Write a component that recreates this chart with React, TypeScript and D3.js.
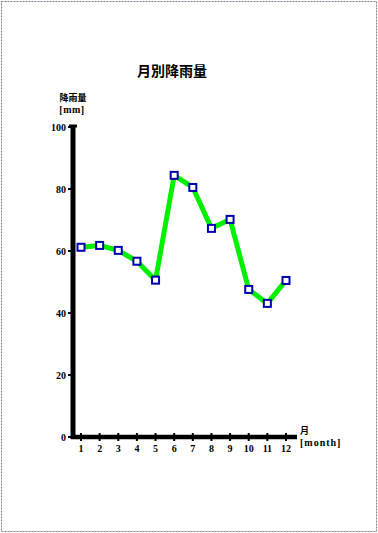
import React from "react";
import * as d3 from "d3";

const months = [1, 2, 3, 4, 5, 6, 7, 8, 9, 10, 11, 12];
const rainfall = [61.2, 61.8, 60.2, 56.7, 50.6, 84.4, 80.5, 67.3, 70.2, 47.6, 43.1, 50.5];
const yTicks = [0, 20, 40, 60, 80, 100];
const title = "月別降雨量";
const yTitle = ["降雨量", "[mm]"];
const xTitle = ["月", "[month]"];

const W = 378;
const H = 533;

export default function App() {
  const x = d3.scaleLinear().domain([1, 12]).range([81, 286]);
  const y = d3.scaleLinear().domain([0, 100]).range([437, 127]);
  const data = months.map((m, i) => ({ m, v: rainfall[i] }));
  const line = d3
    .line<{ m: number; v: number }>()
    .x((d) => x(d.m))
    .y((d) => y(d.v));
  const tickFont = "'Liberation Serif', 'DejaVu Serif', serif";
  const cjk = "'Noto Sans CJK JP', 'Noto Sans CJK SC', sans-serif";
  const axisX = 73;
  const axisY = y(0);
  return (
    <svg
      width={W}
      height={H}
      style={{ position: "fixed", left: 0, top: 0, background: "#fff" }}
    >
      <rect x={1.5} y={1.5} width={375} height={530} fill="#fff" stroke="#7c7c8c" strokeWidth={1} strokeDasharray="2,1" />
      <text x={172} y={76} textAnchor="middle" fontFamily={cjk} fontWeight="bold" fontSize={14} fill="#000">
        {title}
      </text>
      <text x={73} y={100.5} textAnchor="middle" fontFamily={cjk} fontWeight="bold" fontSize={9} fill="#000">
        {yTitle[0]}
      </text>
      <text x={72} y={112.5} textAnchor="middle" fontFamily={tickFont} fontWeight="bold" fontSize={10} fill="#000" letterSpacing={0.5}>
        {yTitle[1]}
      </text>
      <text x={300} y={434} textAnchor="start" fontFamily={cjk} fontWeight="bold" fontSize={9} fill="#000">
        {xTitle[0]}
      </text>
      <text x={300} y={446} textAnchor="start" fontFamily={tickFont} fontWeight="bold" fontSize={10} fill="#000" letterSpacing={1}>
        {xTitle[1]}
      </text>
      {/* y ticks */}
      {yTicks.map((t) => (
        <g key={t}>
          <line x1={axisX - 5} x2={axisX} y1={y(t)} y2={y(t)} stroke="#000" strokeWidth={2} />
          <text x={66} y={y(t) + 3.5} textAnchor="end" fontFamily={tickFont} fontWeight="bold" fontSize={10} fill="#000">
            {t}
          </text>
        </g>
      ))}
      {/* x ticks */}
      {months.map((m) => (
        <g key={m}>
          <line x1={x(m)} x2={x(m)} y1={axisY - 4} y2={axisY + 4} stroke="#000" strokeWidth={2} />
          <text x={x(m)} y={axisY + 14.5} textAnchor="middle" fontFamily={tickFont} fontWeight="bold" fontSize={10} fill="#000">
            {m}
          </text>
        </g>
      ))}
      {/* axes */}
      <line x1={axisX} x2={axisX} y1={y(100) - 1} y2={axisY + 2} stroke="#000" strokeWidth={5} />
      <line x1={axisX - 4} x2={axisX + 4} y1={y(100) - 1} y2={y(100) - 1} stroke="#000" strokeWidth={3} />
      <line x1={axisX - 2} x2={297} y1={axisY} y2={axisY} stroke="#000" strokeWidth={4.5} />
      {/* series */}
      <path d={line(data) || ""} fill="none" stroke="#00f000" strokeWidth={5} strokeLinejoin="round" />
      {data.map((d) => (
        <rect
          key={d.m}
          x={x(d.m) - 3.5}
          y={y(d.v) - 3.5}
          width={7}
          height={7}
          fill="#fff"
          stroke="#0000b0"
          strokeWidth={2}
        />
      ))}
    </svg>
  );
}
